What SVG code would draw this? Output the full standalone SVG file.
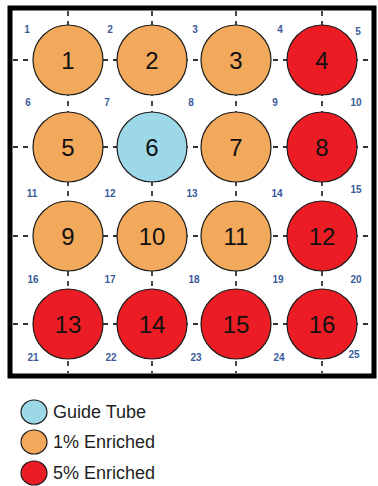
<svg xmlns="http://www.w3.org/2000/svg" width="378" height="486" viewBox="0 0 378 486">
<style>
.rod{stroke:#1a1a1a;stroke-width:1.2}
.o{fill:#F3A95B}
.r{fill:#EC1C24}
.b{fill:#9DD8E8}
.num{font-family:"Liberation Sans",Arial,sans-serif;font-size:24px;fill:#111;text-anchor:middle}
.pos{font-family:"Liberation Sans",Arial,sans-serif;font-size:10px;font-weight:bold;fill:#3A5A9A;text-anchor:middle}
.grid{stroke:#333;stroke-width:1.8;stroke-dasharray:5 5;fill:none}
.leg{font-family:"Liberation Sans",Arial,sans-serif;font-size:18px;fill:#1e1e1e}
</style>
<rect x="0" y="0" width="378" height="486" fill="#fff"/>
<rect x="10" y="8" width="364" height="368" fill="#fff" stroke="#000" stroke-width="5"/>
<g id="connectors">
<line class="grid" x1="68" y1="11" x2="68" y2="373"/>
<line class="grid" x1="152" y1="11" x2="152" y2="373"/>
<line class="grid" x1="236" y1="11" x2="236" y2="373"/>
<line class="grid" x1="322" y1="11" x2="322" y2="373"/>
<line class="grid" x1="13" y1="60" x2="371" y2="60"/>
<line class="grid" x1="13" y1="147" x2="371" y2="147"/>
<line class="grid" x1="13" y1="236" x2="371" y2="236"/>
<line class="grid" x1="13" y1="324" x2="371" y2="324"/>
</g>
<g id="positions">
<text class="pos" x="27" y="33">1</text>
<text class="pos" x="110" y="33">2</text>
<text class="pos" x="195" y="33">3</text>
<text class="pos" x="280" y="33">4</text>
<text class="pos" x="358" y="35">5</text>
<text class="pos" x="28" y="106">6</text>
<text class="pos" x="107" y="106">7</text>
<text class="pos" x="191" y="106">8</text>
<text class="pos" x="275" y="106">9</text>
<text class="pos" x="356" y="106">10</text>
<text class="pos" x="32" y="197">11</text>
<text class="pos" x="110" y="197">12</text>
<text class="pos" x="192" y="197">13</text>
<text class="pos" x="277" y="197">14</text>
<text class="pos" x="356" y="193">15</text>
<text class="pos" x="33" y="283">16</text>
<text class="pos" x="110" y="283">17</text>
<text class="pos" x="194" y="283">18</text>
<text class="pos" x="278" y="283">19</text>
<text class="pos" x="356" y="283">20</text>
<text class="pos" x="33" y="361">21</text>
<text class="pos" x="111" y="361">22</text>
<text class="pos" x="196" y="361">23</text>
<text class="pos" x="279" y="361">24</text>
<text class="pos" x="354" y="358">25</text>
</g>
<g id="rod1"><circle class="rod o" cx="68" cy="60" r="35"/><text class="num" x="68" y="69">1</text></g>
<g id="rod2"><circle class="rod o" cx="152" cy="60" r="35"/><text class="num" x="152" y="69">2</text></g>
<g id="rod3"><circle class="rod o" cx="236" cy="60" r="35"/><text class="num" x="236" y="69">3</text></g>
<g id="rod4"><circle class="rod r" cx="322" cy="60" r="35"/><text class="num" x="322" y="69">4</text></g>
<g id="rod5"><circle class="rod o" cx="68" cy="147" r="35"/><text class="num" x="68" y="156">5</text></g>
<g id="rod6"><circle class="rod b" cx="152" cy="147" r="35"/><text class="num" x="152" y="156">6</text></g>
<g id="rod7"><circle class="rod o" cx="236" cy="147" r="35"/><text class="num" x="236" y="156">7</text></g>
<g id="rod8"><circle class="rod r" cx="322" cy="147" r="35"/><text class="num" x="322" y="156">8</text></g>
<g id="rod9"><circle class="rod o" cx="68" cy="236" r="35"/><text class="num" x="68" y="245">9</text></g>
<g id="rod10"><circle class="rod o" cx="152" cy="236" r="35"/><text class="num" x="152" y="245">10</text></g>
<g id="rod11"><circle class="rod o" cx="236" cy="236" r="35"/><text class="num" x="236" y="245">11</text></g>
<g id="rod12"><circle class="rod r" cx="322" cy="236" r="35"/><text class="num" x="322" y="245">12</text></g>
<g id="rod13"><circle class="rod r" cx="68" cy="324" r="35"/><text class="num" x="68" y="333">13</text></g>
<g id="rod14"><circle class="rod r" cx="152" cy="324" r="35"/><text class="num" x="152" y="333">14</text></g>
<g id="rod15"><circle class="rod r" cx="236" cy="324" r="35"/><text class="num" x="236" y="333">15</text></g>
<g id="rod16"><circle class="rod r" cx="322" cy="324" r="35"/><text class="num" x="322" y="333">16</text></g>
<g id="legend">
<ellipse class="rod b" cx="34" cy="412" rx="13" ry="12"/><text class="leg" x="53" y="418">Guide Tube</text>
<ellipse class="rod o" cx="34" cy="442" rx="13" ry="12"/><text class="leg" x="53" y="448">1% Enriched</text>
<ellipse class="rod r" cx="34" cy="473" rx="13" ry="12"/><text class="leg" x="53" y="479">5% Enriched</text>
</g>
</svg>
